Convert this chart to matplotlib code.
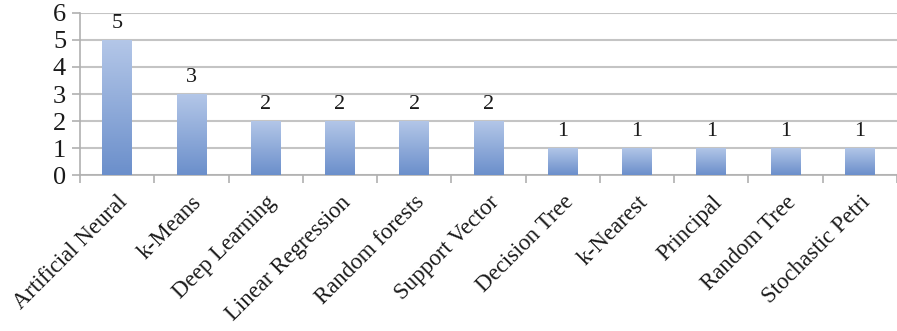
import numpy as np
import matplotlib.pyplot as plt
from matplotlib.colors import LinearSegmentedColormap

# Number of studies per machine-learning technique
techniques = ['Artificial Neural', 'k-Means', 'Deep Learning', 'Linear Regression',
              'Random forests', 'Support Vector', 'Decision Tree', 'k-Nearest',
              'Principal', 'Random Tree', 'Stochastic Petri']
counts = [5, 3, 2, 2, 2, 2, 1, 1, 1, 1, 1]

plt.rcParams['font.family'] = ['Liberation Serif', 'DejaVu Serif']

fig = plt.figure(figsize=(8.97, 3.31), dpi=100)
ax = fig.add_axes([0.0892, 0.471, 0.9108, 0.49])

x = np.arange(len(techniques))
bars = ax.bar(x, counts, width=0.4, color='none', edgecolor='none', zorder=3)

# vertical gradient fill, light at top, darker at bottom
grad = LinearSegmentedColormap.from_list('barfill', ['#6b8fcb', '#b4c7e8'])
ramp = np.linspace(0, 1, 256).reshape(-1, 1)
for b in bars:
    x0, y0 = b.get_x(), b.get_y()
    im = ax.imshow(ramp, cmap=grad, origin='lower', aspect='auto',
                   extent=[x0, x0 + b.get_width(), y0, y0 + b.get_height()],
                   zorder=3)
    im.set_clip_path(b)

ax.bar_label(bars, labels=[str(c) for c in counts], padding=5, fontsize=16,
             color='#1a1a1a')

ax.set_xlim(-0.5, len(techniques) - 0.5)
ax.set_ylim(0, 6)
ax.set_yticks(range(7))
ax.yaxis.grid(True, color='#c4c4c4', linewidth=1.5, zorder=0)
ax.set_axisbelow(True)

ax.set_xticks(x)
ax.set_xticklabels(techniques, rotation=45, ha='right', rotation_mode='anchor',
                   fontsize=16.5, color='#1a1a1a')
ax.set_xticks(np.arange(-0.5, len(techniques)), minor=True)
ax.tick_params(axis='x', which='major', length=0, pad=12)
ax.tick_params(axis='x', which='minor', length=6, color='#b0b0b0', width=1.2)
ax.tick_params(axis='y', length=6, color='#b0b0b0', width=1.2, labelsize=19,
               labelcolor='#1a1a1a', pad=4)

for side in ['top', 'right']:
    ax.spines[side].set_visible(False)
for side in ['left', 'bottom']:
    ax.spines[side].set_color('#b0b0b0')
    ax.spines[side].set_linewidth(1.2)

fig.savefig('out.png', dpi=100)
